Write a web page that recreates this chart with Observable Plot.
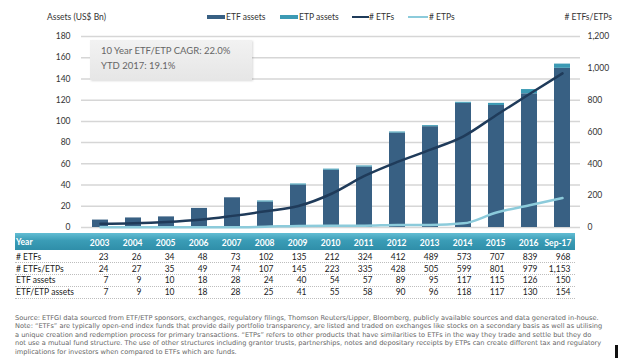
<!DOCTYPE html>
<html><head><meta charset="utf-8">
<script src="https://cdn.jsdelivr.net/npm/d3@7"></script>
<script src="https://cdn.jsdelivr.net/npm/@observablehq/plot@0.6"></script>
<style>
body{margin:0;background:#fff;}
#wrap{position:relative;width:618px;height:358px;overflow:hidden;font-family:Lato,sans-serif;color:#333;}
.abs{position:absolute;white-space:nowrap;}
#chart{position:absolute;left:0;top:0;}
</style></head><body><div id="wrap"></div>
<script>
// ---- data ----
const years = ["2003","2004","2005","2006","2007","2008","2009","2010","2011","2012","2013","2014","2015","2016","Sep-17"];
const numETFs = [23,26,34,48,73,102,135,212,324,412,489,573,707,839,968];
const numETFsETPs = [24,27,35,49,74,107,145,223,335,428,505,599,801,979,1153];
const etfAssets = [7,9,10,18,28,24,40,54,57,89,95,117,115,126,150];
const etfEtpAssets = [7,9,10,18,28,25,41,55,58,90,96,118,117,130,154];
const leftTicks = [0,20,40,60,80,100,120,140,160,180];
const rightTicks = [0,200,400,600,800,1000,1200];
const rowLabels = ["# ETFs","# ETFs/ETPs","ETF assets","ETF/ETP assets"];
const seriesNames = ["ETF assets","ETP assets","# ETFs","# ETPs"];
const seriesColors = ["#386083","#3c9ab4","#1f3b5a","#8ccbdb"];
const noteLines = [
 "Source: ETFGI data sourced from ETF/ETP sponsors, exchanges, regulatory filings, Thomson Reuters/Lipper, Bloomberg, publicly available sources and data generated in-house.",
 "Note: \u201cETFs\u201d are typically open-end index funds that provide daily portfolio transparency, are listed and traded on exchanges like stocks on a secondary basis as well as utilising",
 "a unique creation and redemption process for primary transactions. \u201cETPs\u201d refers to other products that have similarities to ETFs in the way they trade and settle but they do",
 "not use a mutual fund structure. The use of other structures including grantor trusts, partnerships, notes and depositary receipts by ETPs can create different tax and regulatory",
 "implications for investors when compared to ETFs which are funds."
];

const wrap = document.getElementById("wrap");
const k = 180/1200;
const fmt = d3.format(",");

const bars = years.flatMap((y,i)=>[
  {year:y, type:seriesNames[0], value:etfAssets[i]},
  {year:y, type:seriesNames[1], value:etfEtpAssets[i]-etfAssets[i]}
]);
const pts = years.map((y,i)=>({year:y, etfs:numETFs[i], etps:numETFsETPs[i]-numETFs[i]}));
const rows = [numETFs, numETFsETPs, etfAssets, etfEtpAssets];

function add(html, style){
  const d = document.createElement("div");
  d.className = "abs";
  d.innerHTML = html;
  Object.assign(d.style, style);
  wrap.appendChild(d);
  return d;
}

// table header background (behind svg)
add("", {left:"15px", top:"233px", width:"560px", height:"17px",
  background:"linear-gradient(to bottom,#62bdd3 0%,#3a9cb6 45%,#2f8ea9 100%)"});
// dotted separators
[262,274,286,298].forEach(t=>add("",{left:"15px",top:t+"px",width:"560px",height:"0",borderTop:"1px dotted #bdbdbd"}));

const rowDy = [30, 41.5, 53, 64.5];

const chart = Plot.plot({
  width:618, height:300, marginLeft:81, marginRight:38, marginTop:36, marginBottom:73,
  style:{background:"transparent", fontFamily:"Lato, sans-serif", fontSize:"8.5px", color:"#333"},
  x:{domain:years, paddingInner:0.52, paddingOuter:0.26, axis:null},
  y:{domain:[0,180], axis:null},
  color:{domain:seriesNames.slice(0,2), range:seriesColors.slice(0,2)},
  marks:[
    Plot.ruleY(leftTicks,{stroke:"#d6d6d6", strokeWidth:1.5}),
    Plot.axisY(leftTicks,{anchor:"left", label:null, tickSize:0, tickPadding:11, fill:"#333", fontSize:8.5}),
    Plot.axisY(rightTicks.map(d=>d*k),{anchor:"right", label:null, tickSize:0, tickPadding:7, textAnchor:"start",
      tickFormat:d=>fmt(Math.round(d/k)), fill:"#333", fontSize:8.5}),
    Plot.barY(bars,{x:"year", y:"value", fill:"type", order:seriesNames.slice(0,2)}),
    Plot.line(pts,{x:"year", y:d=>d.etfs*k, stroke:seriesColors[2], strokeWidth:2.5, curve:"monotone-x"}),
    Plot.line(pts,{x:"year", y:d=>d.etps*k, stroke:seriesColors[3], strokeWidth:2.5, curve:"monotone-x"}),
    Plot.text(years,{x:d=>d, y:d=>0, dy:15.5, dx:9, textAnchor:"end", fill:"white", fontWeight:"bold", fontSize:8.5}),
    ...rows.map((r,ri)=>Plot.text(years.map((y,i)=>({year:y, v:r[i]})),
      {x:"year", y:d=>0, dy:rowDy[ri], dx:8, textAnchor:"end", text:d=>fmt(d.v), fill:"#222", fontSize:8.5}))
  ]
});
chart.id = "chart";
wrap.appendChild(chart);

// table row labels
add("Year",{left:"16px", top:(242-6)+"px", lineHeight:"12px", fontSize:"8.5px", fontWeight:"bold", color:"#fff"});
rowLabels.forEach((t,i)=>add(t,{left:"16px", top:(227+rowDy[i]-6)+"px", lineHeight:"12px", fontSize:"8.5px", color:"#222"}));

// axis titles and legend
const ly = 17;
add("Assets (US$ Bn)",{left:"47px", top:(ly-6)+"px", lineHeight:"12px", fontSize:"8.5px"});
add("# ETFs/ETPs",{right:"6px", top:(ly-6)+"px", lineHeight:"12px", fontSize:"8.5px"});
const legend = [
  {sx:207, sw:18, sh:4.5, tx:226},
  {sx:280, sw:18, sh:4.5, tx:299},
  {sx:352, sw:17, sh:2.5, tx:369},
  {sx:408, sw:20, sh:2.5, tx:429}
];
legend.forEach((l,i)=>{
  add("",{left:l.sx+"px", top:(ly-l.sh/2)+"px", width:l.sw+"px", height:l.sh+"px", background:seriesColors[i]});
  add(seriesNames[i],{left:l.tx+"px", top:(ly-6)+"px", lineHeight:"12px", fontSize:"8.5px"});
});

// annotation box
add("10 Year ETF/ETP CAGR: 22.0%<br>YTD 2017: 19.1%",{left:"90px", top:"40px", width:"151px", height:"33px",
  padding:"4px 0 3px 11px", lineHeight:"14.5px", fontSize:"9.5px", color:"#666",
  background:"linear-gradient(to bottom,#f2f2f2,#e6e6e6)", boxShadow:"1px 1px 2px rgba(0,0,0,0.15)"});

// footer
const fdivs = noteLines.map((t,i)=>add(t,{left:"15px", top:(317.5 + i*8.6 - 4)+"px", lineHeight:"8px",
  fontSize:"6.5px", color:"#666", fontFamily:"'DejaVu Sans', sans-serif"}));
const w0 = fdivs[0].getBoundingClientRect().width;
const fs = Math.min(6.5*585/w0, 7);
fdivs.forEach(d=>d.style.fontSize = fs+"px");

add("",{left:"615px", top:"345px", width:"3px", height:"13px", background:"#111"});
</script></body></html>
